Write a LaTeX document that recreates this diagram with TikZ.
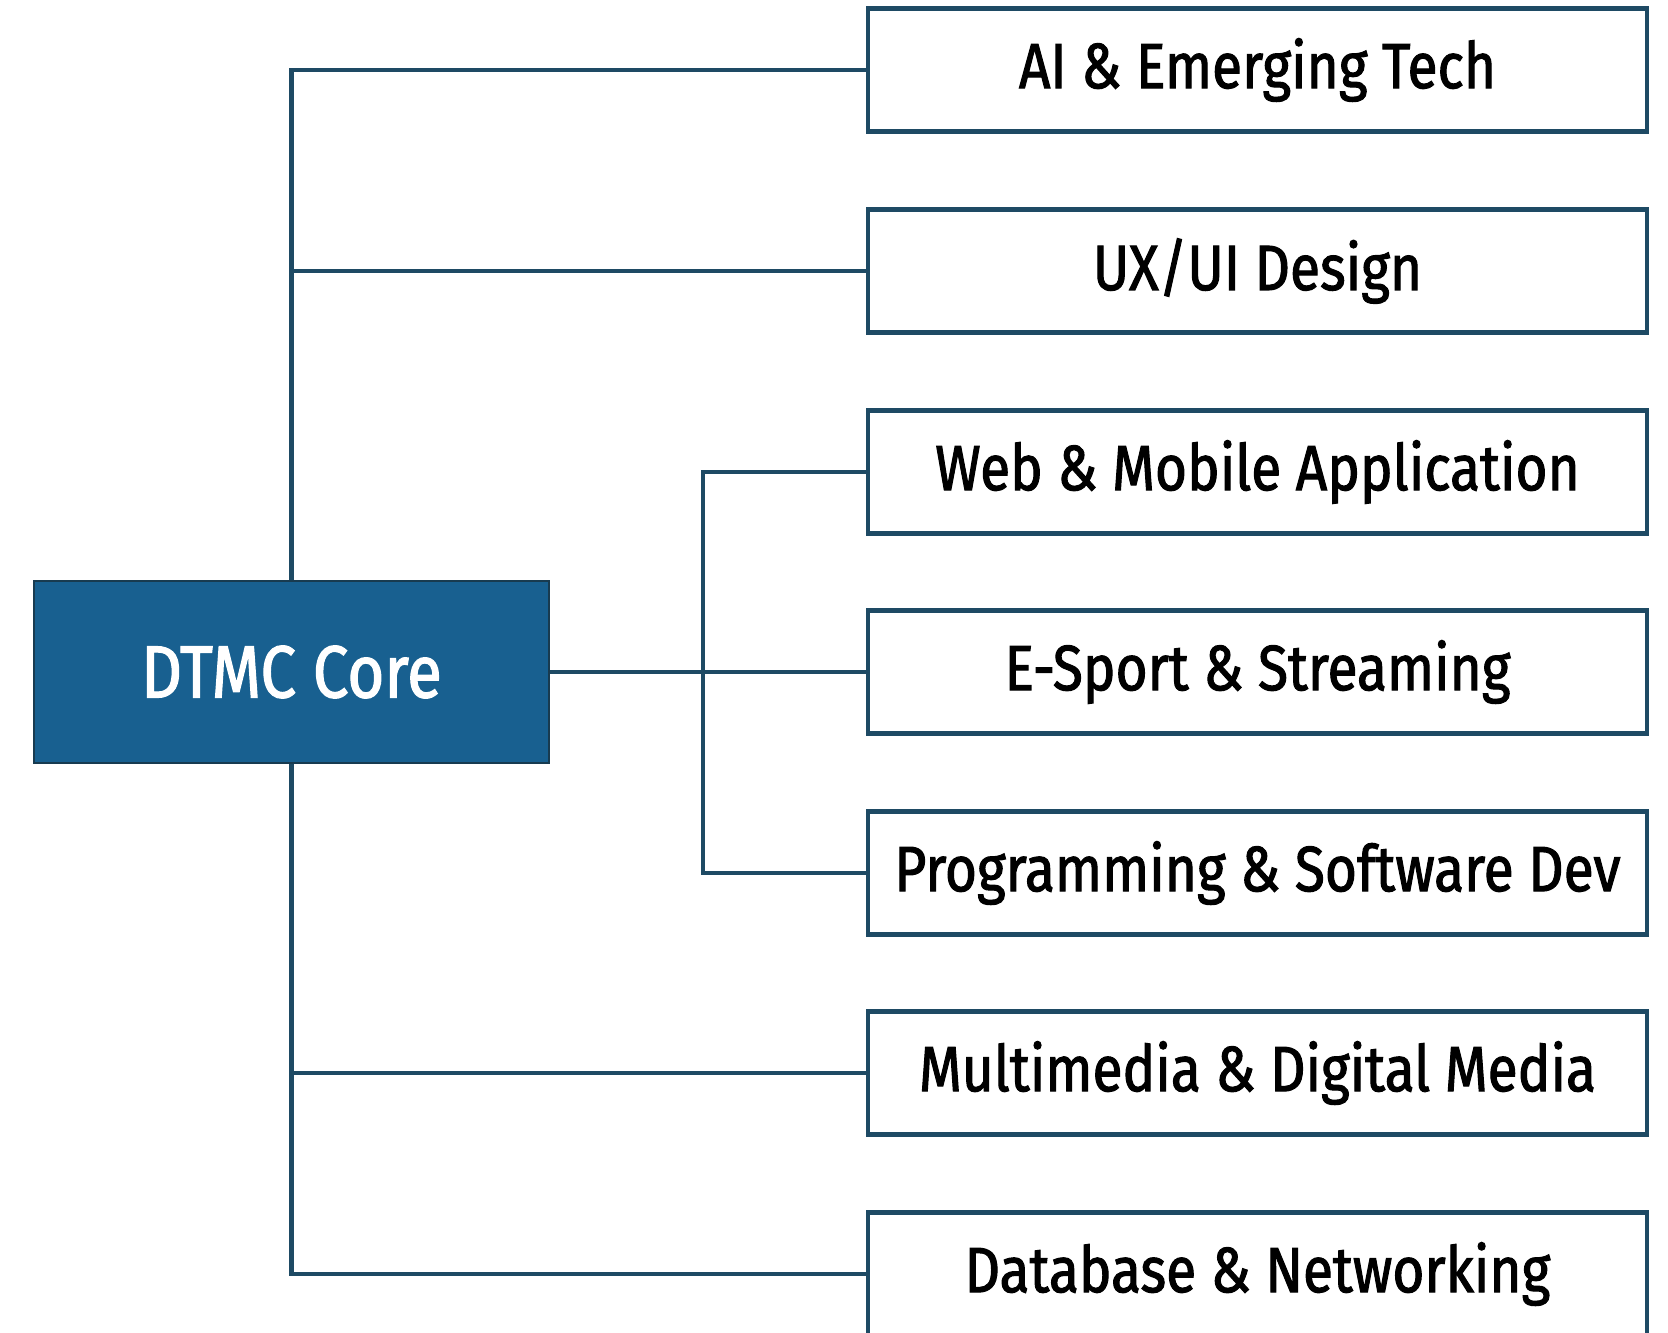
\documentclass[tikz,border=0pt]{standalone}
\usepackage{fontspec}
\setmainfont[FakeStretch=0.86, FakeBold=1.6]{Fira Sans}
\usetikzlibrary{positioning}

\definecolor{linecol}{RGB}{30,74,100}
\definecolor{corefill}{RGB}{24,96,144}

\tikzset{
    leaf/.style={draw=linecol, line width=2.4pt, fill=white, text=black,
        minimum width=389.5pt, minimum height=61.5pt, inner sep=0pt,
        font=\fontsize{32}{37}\selectfont},
    core/.style={draw=linecol!80!black, line width=1pt, fill=corefill, text=white,
        minimum width=257.5pt, minimum height=91pt, inner sep=0pt,
        font=\fontsize{37}{42}\selectfont},
    link/.style={draw=linecol, line width=2.4pt}
}

\begin{document}
\begin{tikzpicture}[x=0.5pt, y=0.5pt]
    % Canvas
    \useasboundingbox (0,0) rectangle (1668,1332);

    % Central node
    \node[core] (dtmc) at (291.5,660) {DTMC Core};

    % Branch boxes
    \node[leaf] (ai)   at (1257.5,1262) {AI \& Emerging Tech};
    \node[leaf] (ux)   at (1257.5,1061) {UX/UI Design};
    \node[leaf] (web)  at (1257.5,860)  {Web \& Mobile Application};
    \node[leaf] (esp)  at (1257.5,660)  {E-Sport \& Streaming};
    \node[leaf] (prog) at (1257.5,459)  {Programming \& Software Dev};
    \node[leaf] (mm)   at (1257.5,259)  {Multimedia \& Digital Media};
    \node[leaf] (db)   at (1257.5,58)   {Database \& Networking};

    % Middle split point
    \coordinate (hub) at (703,660);

    % Upper trunk
    \draw[link] (dtmc.north) |- (ai.west);
    \draw[link] (dtmc.north) |- (ux.west);

    % Lower trunk
    \draw[link] (dtmc.south) |- (mm.west);
    \draw[link] (dtmc.south) |- (db.west);

    % Middle fork
    \draw[link] (dtmc.east) -- (esp.west);
    \draw[link] (hub) |- (web.west);
    \draw[link] (hub) |- (prog.west);
\end{tikzpicture}
\end{document}
